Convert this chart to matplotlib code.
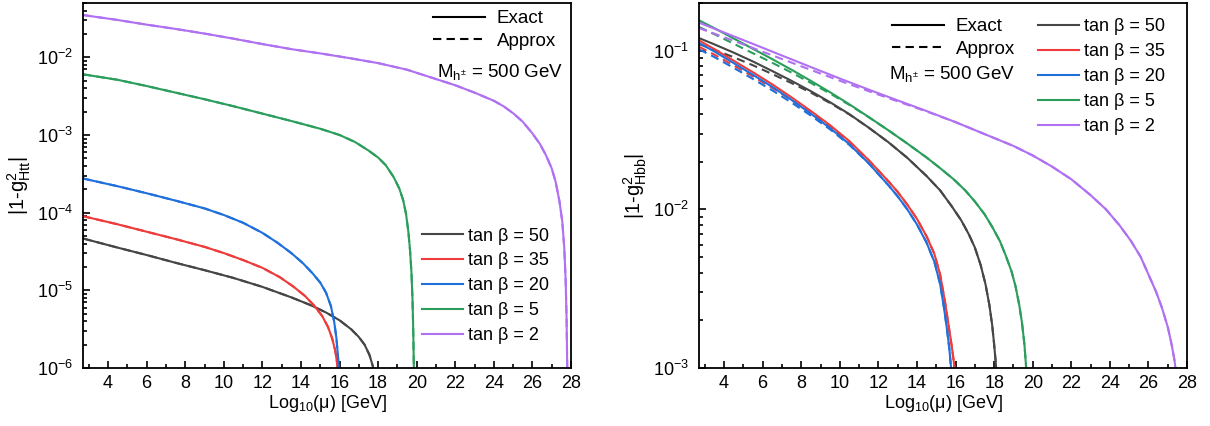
import matplotlib
matplotlib.use('Agg')
import numpy as np
import matplotlib.pyplot as plt
from matplotlib.lines import Line2D
from matplotlib.ticker import MultipleLocator, LogLocator, NullFormatter

plt.rcParams['font.family'] = ['Liberation Sans', 'DejaVu Sans']
plt.rcParams['mathtext.default'] = 'regular'
plt.rcParams['axes.unicode_minus'] = False

# legend labels and colours (tan beta = 50, 35, 20, 5, 2)
tanb_labels = ['tan β = 50', 'tan β = 35', 'tan β = 20', 'tan β = 5', 'tan β = 2']
colors = ['#464646', '#ef3b3b', '#2070dc', '#2b9e5c', '#b070f2']

# values, stored as log10(y)
# ---- left panel: |1 - g^2_Htt| (approx coincides with exact) ----
htt_x50 = [2.7, 4.5, 6.0, 7.5, 9.0, 10.5, 12.0, 13.5, 14.5, 15.3, 16.0, 16.6, 17.0, 17.3, 17.55, 17.72, 17.82, 17.88]
htt_l50 = [-4.332, -4.45, -4.545, -4.645, -4.74, -4.84, -4.955, -5.09, -5.19, -5.285, -5.385, -5.5, -5.6, -5.7,
           -5.83, -5.97, -6.12, -6.3]
htt_x35 = [2.7, 4.5, 6.0, 7.5, 9.0, 10.0, 11.0, 12.0, 12.9, 13.6, 14.2, 14.7, 15.1, 15.4, 15.62, 15.78, 15.88, 15.94,
           15.97]
htt_l35 = [-4.045, -4.15, -4.245, -4.34, -4.44, -4.52, -4.61, -4.71, -4.83, -4.95, -5.07, -5.2, -5.33, -5.47, -5.62,
           -5.78, -5.95, -6.1, -6.3]
htt_x20 = [2.7, 4.5, 6.0, 7.5, 9.0, 10.0, 11.0, 12.0, 12.8, 13.5, 14.1, 14.6, 15.0, 15.3, 15.55, 15.72, 15.84, 15.92,
           15.97, 16.0]
htt_l20 = [-3.56, -3.66, -3.75, -3.845, -3.945, -4.03, -4.13, -4.26, -4.39, -4.52, -4.65, -4.78, -4.9, -5.03, -5.2,
           -5.4, -5.62, -5.85, -6.05, -6.3]
htt_x5 = [2.7, 4.5, 6.0, 7.5, 9.0, 10.5, 12.0, 13.5, 15.0, 16.0, 16.8, 17.5, 18.0, 18.4, 18.8, 19.1, 19.3, 19.45,
          19.57, 19.66, 19.73, 19.78, 19.82, 19.85, 19.87]
htt_l5 = [-2.219, -2.29, -2.37, -2.455, -2.54, -2.63, -2.725, -2.82, -2.92, -3.0, -3.09, -3.2, -3.29, -3.39, -3.54,
          -3.69, -3.84, -4.02, -4.25, -4.5, -4.78, -5.1, -5.5, -5.95, -6.3]
htt_x2 = [2.7, 4.5, 6.0, 7.5, 9.0, 10.5, 12.0, 13.5, 15.0, 16.5, 18.0, 19.5, 21.0, 22.0, 23.0, 24.0, 24.5, 25.0,
          25.5, 26.0, 26.4, 26.7, 27.0, 27.2, 27.4, 27.55, 27.65, 27.72, 27.77, 27.8, 27.82]
htt_l2 = [-1.456, -1.52, -1.58, -1.635, -1.695, -1.76, -1.83, -1.895, -1.95, -2.01, -2.075, -2.16, -2.28, -2.36,
          -2.455, -2.56, -2.63, -2.72, -2.83, -2.98, -3.12, -3.26, -3.43, -3.6, -3.85, -4.12, -4.45, -4.85, -5.35,
          -5.9, -6.3]

# ---- right panel: |1 - g^2_Hbb|, exact and approx ----
hbb_x50 = [2.7, 3.5, 4.5, 5.5, 6.5, 7.5, 8.5, 9.5, 10.5, 11.5, 12.5, 13.5, 14.5, 15.2, 15.8, 16.3, 16.7, 17.0,
           17.3, 17.55, 17.75, 17.9, 18.0, 18.08, 18.15]
hbb_l50 = [-0.92, -0.96, -1.012, -1.068, -1.128, -1.19, -1.255, -1.325, -1.4, -1.485, -1.575, -1.675, -1.79, -1.88,
           -1.98, -2.07, -2.16, -2.24, -2.35, -2.47, -2.6, -2.73, -2.85, -2.96, -3.06]
hbb_a50 = [-0.958, -0.994, -1.041, -1.092, -1.147, -1.204, -1.264, -1.33, -1.402, -1.485, -1.575, -1.675, -1.79,
           -1.88, -1.98, -2.07, -2.16, -2.24, -2.35, -2.47, -2.6, -2.73, -2.85, -2.96, -3.06]
hbb_x35 = [2.7, 3.5, 4.5, 5.5, 6.5, 7.5, 8.5, 9.5, 10.5, 11.5, 12.5, 13.0, 13.5, 14.0, 14.5, 14.9, 15.2, 15.45,
           15.65, 15.8, 15.92, 16.0]
hbb_l35 = [-0.935, -0.99, -1.063, -1.136, -1.212, -1.294, -1.38, -1.47, -1.57, -1.69, -1.82, -1.89, -1.97, -2.06,
           -2.17, -2.28, -2.41, -2.58, -2.74, -2.86, -2.97, -3.06]
hbb_a35 = [-0.975, -1.025, -1.093, -1.162, -1.234, -1.311, -1.392, -1.478, -1.574, -1.69, -1.82, -1.89, -1.97,
           -2.06, -2.17, -2.28, -2.41, -2.58, -2.74, -2.86, -2.97, -3.06]
hbb_x20 = [2.7, 3.5, 4.5, 5.5, 6.5, 7.5, 8.5, 9.5, 10.5, 11.5, 12.5, 13.0, 13.5, 14.0, 14.5, 14.9, 15.2, 15.4,
           15.55, 15.68, 15.76, 15.82]
hbb_l20 = [-0.951, -1.005, -1.078, -1.152, -1.228, -1.31, -1.397, -1.488, -1.59, -1.71, -1.845, -1.918, -2.0,
           -2.095, -2.21, -2.33, -2.47, -2.62, -2.75, -2.88, -2.99, -3.08]
hbb_a20 = [-0.991, -1.04, -1.108, -1.178, -1.25, -1.327, -1.409, -1.496, -1.594, -1.71, -1.845, -1.918, -2.0,
           -2.095, -2.21, -2.33, -2.47, -2.62, -2.75, -2.88, -2.99, -3.08]
hbb_x5 = [2.7, 3.5, 4.5, 5.5, 6.5, 7.5, 8.5, 9.5, 10.5, 11.5, 12.5, 13.5, 14.5, 15.2, 15.9, 16.5, 17.0, 17.5,
          17.9, 18.3, 18.6, 18.9, 19.1, 19.3, 19.45, 19.57, 19.65, 19.7]
hbb_l5 = [-0.808, -0.858, -0.923, -0.988, -1.053, -1.12, -1.19, -1.262, -1.338, -1.418, -1.5, -1.585, -1.673,
          -1.74, -1.81, -1.88, -1.95, -2.03, -2.11, -2.2, -2.29, -2.39, -2.48, -2.6, -2.72, -2.85, -2.98, -3.08]
hbb_a5 = [-0.85, -0.896, -0.956, -1.016, -1.076, -1.138, -1.203, -1.27, -1.342, -1.419, -1.5, -1.585, -1.673,
          -1.74, -1.81, -1.88, -1.95, -2.03, -2.11, -2.2, -2.29, -2.39, -2.48, -2.6, -2.72, -2.85, -2.98, -3.08]
hbb_x2 = [2.7, 4.0, 5.5, 7.0, 8.5, 10.0, 11.5, 13.0, 14.5, 16.0, 17.5, 19.0, 20.0, 21.0, 22.0, 23.0, 23.8, 24.5,
          25.1, 25.6, 26.0, 26.4, 26.7, 27.0, 27.2, 27.35, 27.45, 27.52]
hbb_l2 = [-0.823, -0.885, -0.957, -1.03, -1.103, -1.175, -1.245, -1.313, -1.38, -1.45, -1.525, -1.6, -1.66,
          -1.73, -1.81, -1.91, -2.0, -2.1, -2.2, -2.3, -2.41, -2.52, -2.62, -2.74, -2.85, -2.95, -3.05, -3.12]
hbb_a2 = [-0.857, -0.915, -0.983, -1.052, -1.121, -1.189, -1.255, -1.319, -1.383, -1.45, -1.525, -1.6, -1.66,
          -1.73, -1.81, -1.91, -2.0, -2.1, -2.2, -2.3, -2.41, -2.52, -2.62, -2.74, -2.85, -2.95, -3.05, -3.12]

htt_curves = [(htt_x50, htt_l50, htt_l50), (htt_x35, htt_l35, htt_l35), (htt_x20, htt_l20, htt_l20),
              (htt_x5, htt_l5, htt_l5), (htt_x2, htt_l2, htt_l2)]
hbb_curves = [(hbb_x50, hbb_l50, hbb_a50), (hbb_x35, hbb_l35, hbb_a35), (hbb_x20, hbb_l20, hbb_a20),
              (hbb_x5, hbb_l5, hbb_a5), (hbb_x2, hbb_l2, hbb_a2)]

dash = (0, (4, 2.5))
lw = 1.5
fs_leg = 13

fig = plt.figure(figsize=(12.1, 4.26), dpi=100)
axL = fig.add_axes([0.0686, 0.136, 0.4033, 0.857])
axR = fig.add_axes([0.5777, 0.136, 0.4033, 0.857])


def style_axis(ax, ylim):
    ax.set_yscale('log')
    ax.set_xlim(2.7, 28)
    ax.set_ylim(*ylim)
    ax.xaxis.set_major_locator(MultipleLocator(2))
    ax.xaxis.set_minor_locator(MultipleLocator(1))
    ax.yaxis.set_major_locator(LogLocator(base=10, numticks=20))
    ax.yaxis.set_minor_locator(LogLocator(base=10, subs=range(2, 10), numticks=20))
    ax.yaxis.set_minor_formatter(NullFormatter())
    ax.tick_params(which='both', direction='in', top=False, right=False, width=1.2)
    ax.tick_params(which='major', length=5)
    ax.tick_params(which='minor', length=2.8)
    ax.tick_params(axis='x', labelsize=13, pad=5)
    ax.tick_params(axis='y', labelsize=13, pad=7)
    for s in ax.spines.values():
        s.set_linewidth(1.3)
    ax.set_xlabel('Log$_{10}$(\u03bc) [GeV]', fontsize=13, labelpad=1)


for ax, curves in ((axL, htt_curves), (axR, hbb_curves)):
    for (x, ly, la), c in zip(curves, colors):
        ax.plot(x, 10 ** np.array(la), color=c, lw=lw, ls=dash)
        ax.plot(x, 10 ** np.array(ly), color=c, lw=lw)

style_axis(axL, (1e-6, 5e-2))
style_axis(axR, (1e-3, 0.2))
axL.set_ylabel('|1-g$^{2}_{Htt}$|', fontsize=14.5, labelpad=3)
axR.set_ylabel('|1-g$^{2}_{Hbb}$|', fontsize=14.5, labelpad=3)

ea_handles = [Line2D([], [], color='black', lw=lw), Line2D([], [], color='black', lw=lw, ls=dash)]
tb_handles = [Line2D([], [], color=c, lw=lw) for c in colors]

legL1 = axL.legend(ea_handles, ['Exact', 'Approx'], loc='upper left', bbox_to_anchor=(0.717, 0.98),
                   frameon=False, fontsize=13.5, handlelength=2.77, handletextpad=0.64,
                   labelspacing=0.29, borderpad=0, borderaxespad=0)
axL.add_artist(legL1)
axL.legend(tb_handles, tanb_labels, loc='upper left', bbox_to_anchor=(0.695, 0.385),
           frameon=False, fontsize=fs_leg, handlelength=2.27, handletextpad=0.28,
           labelspacing=0.44, borderpad=0, borderaxespad=0)
axL.text(0.725, 0.811, 'M$_{h^{\\pm}}$ = 500 GeV', transform=axL.transAxes, fontsize=13.5, va='center')

legR1 = axR.legend(ea_handles, ['Exact', 'Approx'], loc='upper left', bbox_to_anchor=(0.395, 0.959),
                   frameon=False, fontsize=13.5, handlelength=2.77, handletextpad=0.64,
                   labelspacing=0.29, borderpad=0, borderaxespad=0)
axR.add_artist(legR1)
axR.legend(tb_handles, tanb_labels, loc='upper left', bbox_to_anchor=(0.695, 0.958),
           frameon=False, fontsize=fs_leg, handlelength=2.27, handletextpad=0.28,
           labelspacing=0.44, borderpad=0, borderaxespad=0)
axR.text(0.389, 0.805, 'M$_{h^{\\pm}}$ = 500 GeV', transform=axR.transAxes, fontsize=13.5, va='center')

fig.savefig('out.png', dpi=100)
